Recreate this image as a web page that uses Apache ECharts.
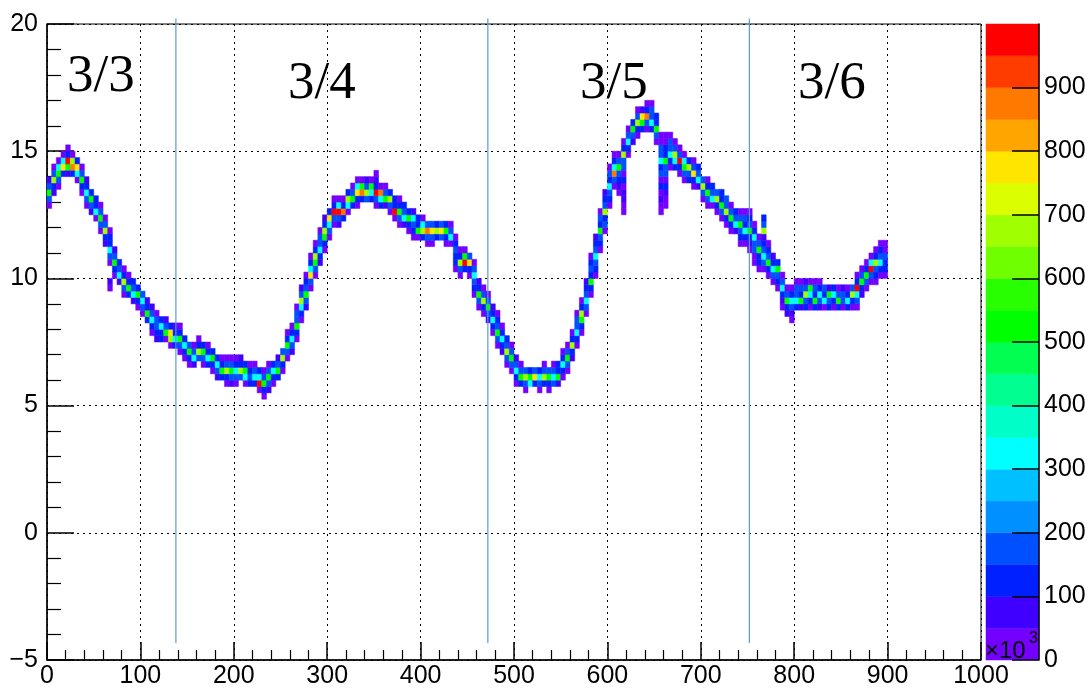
<!DOCTYPE html>
<html>
<head>
<meta charset="utf-8">
<title>occupancy</title>
<script src="https://cdn.jsdelivr.net/npm/echarts@6/dist/echarts.min.js"></script>
<style>
html, body { margin: 0; padding: 0; background: #fff; }
#fig_occupancy { width: 1091px; height: 689px; }
</style>
</head>
<body>
<div id="fig_occupancy"></div>
<script>
// bin sizes of the 2D histogram
var xBinWidth = 5;
var yBinWidth = 0.25;

// palette (x10^3), 20 bands
var colorLevels = [0, 50, 100, 150, 200, 250, 300, 350, 400, 450, 500,
    550, 600, 650, 700, 750, 800, 850, 900, 950, 1000];
var palette = ['#7400ff', '#4000ff', '#0020ff', '#0050ff', '#0090ff',
    '#00c0ff', '#00ffff', '#00ffc8', '#00ff90', '#00ff50',
    '#00ff00', '#28ff00', '#70ff00', '#a0ff00', '#dcff00',
    '#ffe600', '#ffa500', '#ff7800', '#ff3c00', '#ff0000'];

// one row per x bin: [x start, y of lowest bin, counts (x10^3) upwards...]
var trackColumns = [
    [0, 12.75, 30, 180, 520, 170, 70],
    [5, 13.25, 70, 130, 650, 180, 30],
    [10, 13.5, 30, 170, 520, 320, 30],
    [15, 14.0, 120, 760, 320, 30],
    [20, 14.0, 70, 520, 970, 120, 30],
    [25, 14.0, 120, 870, 650, 30],
    [30, 13.75, 30, 320, 760, 120],
    [35, 13.25, 30, 130, 520, 170, 30],
    [40, 12.75, 30, 180, 320, 130, 70],
    [45, 12.5, 70, 170, 520, 120],
    [50, 12.25, 30, 320, 130, 120],
    [55, 11.75, 30, 180, 520, 170, 30],
    [60, 11.25, 70, 130, 650, 180, 30],
    [65, 9.5, 30, 70, 0, 0, 30, 170, 320, 130, 120, 30],
    [70, 10.0, 30, 130, 520, 180, 70],
    [75, 9.75, 70, 320, 170, 120],
    [80, 9.25, 30, 180, 650, 130, 30],
    [85, 9.25, 120, 520, 130, 30],
    [90, 9.0, 70, 320, 170, 120],
    [95, 8.75, 30, 130, 520, 120],
    [100, 8.5, 30, 170, 320, 180],
    [105, 8.25, 120, 520, 130, 70],
    [110, 7.75, 30, 120, 320, 170, 70],
    [115, 7.5, 70, 120, 170, 180, 30],
    [120, 7.5, 120, 130, 320, 120],
    [125, 7.5, 30, 520, 170, 70],
    [130, 7.25, 30, 650, 760, 120],
    [135, 7.25, 120, 320, 130, 70],
    [140, 7.0, 30, 170, 520, 120, 30],
    [145, 6.75, 30, 130, 320, 120],
    [150, 6.5, 30, 120, 520, 180],
    [155, 6.5, 70, 320, 170, 30],
    [160, 6.75, 180, 650, 130, 30],
    [165, 6.5, 30, 170, 520, 120],
    [170, 6.5, 120, 320, 130, 30],
    [175, 6.25, 30, 130, 520, 120],
    [180, 6.0, 70, 170, 320, 120],
    [185, 6.0, 120, 520, 130, 30],
    [190, 5.75, 30, 130, 650, 180, 30],
    [195, 5.75, 70, 180, 520, 170, 30],
    [200, 5.75, 30, 170, 320, 120, 30],
    [205, 6.0, 180, 650, 130, 70],
    [210, 5.75, 30, 320, 520, 120],
    [215, 5.75, 120, 170, 130, 30],
    [220, 5.75, 130, 320, 180, 30],
    [225, 5.5, 30, 970, 320, 120],
    [230, 5.25, 30, 120, 520, 170, 30],
    [235, 5.5, 70, 170, 520, 180, 30],
    [240, 5.75, 30, 130, 320, 120],
    [245, 6.0, 120, 520, 170, 70],
    [250, 6.25, 30, 130, 650, 180],
    [255, 6.75, 30, 170, 520, 120, 30],
    [260, 7.0, 70, 180, 320, 130, 30],
    [265, 7.5, 30, 120, 520, 170, 180, 30],
    [270, 8.25, 30, 130, 320, 650, 180, 70],
    [275, 8.75, 70, 180, 520, 170, 120, 30],
    [280, 9.5, 30, 170, 760, 320, 120, 30],
    [285, 10.0, 30, 180, 520, 650, 130, 30],
    [290, 10.5, 70, 130, 320, 170, 180, 30],
    [295, 11.0, 30, 120, 520, 650, 130, 70],
    [300, 11.5, 30, 170, 320, 760, 120],
    [305, 12.0, 30, 180, 970, 130, 30],
    [310, 12.0, 70, 170, 970, 320, 30],
    [315, 12.25, 120, 870, 130, 30],
    [320, 12.5, 30, 320, 650, 120],
    [325, 12.75, 120, 520, 170, 30],
    [330, 12.75, 30, 130, 760, 320, 30],
    [335, 13.0, 120, 870, 520, 30],
    [340, 13.0, 180, 650, 170, 70],
    [345, 13.0, 120, 320, 520, 30],
    [350, 12.75, 30, 170, 970, 130, 70, 30],
    [355, 12.75, 120, 320, 870, 30],
    [360, 12.75, 70, 520, 170, 30],
    [365, 12.5, 30, 170, 650, 120],
    [370, 12.25, 30, 970, 130, 120],
    [375, 12.0, 30, 180, 520, 130, 30],
    [380, 12.0, 70, 320, 170, 120],
    [385, 11.75, 30, 130, 520, 120],
    [390, 11.5, 30, 120, 170, 320, 70],
    [395, 11.5, 30, 520, 130, 120],
    [400, 11.5, 120, 650, 320, 30],
    [405, 11.25, 30, 180, 870, 170],
    [410, 11.25, 30, 170, 760, 180],
    [415, 11.5, 130, 650, 120],
    [420, 11.5, 170, 760, 180],
    [425, 11.25, 30, 130, 520, 120],
    [430, 11.25, 30, 320, 170, 30],
    [435, 10.25, 30, 120, 130, 180, 120, 30],
    [440, 10.0, 30, 170, 650, 120, 30],
    [445, 10.25, 120, 970, 520, 30],
    [450, 10.0, 30, 130, 760, 180],
    [455, 9.25, 30, 120, 170, 320, 180, 30],
    [460, 8.75, 30, 180, 520, 130, 70],
    [465, 8.5, 30, 130, 650, 170, 30],
    [470, 8.25, 70, 170, 520, 180, 30],
    [475, 7.75, 30, 120, 320, 130, 70],
    [480, 7.25, 30, 180, 520, 170, 120, 30],
    [485, 7.0, 70, 130, 320, 120, 30],
    [490, 6.5, 30, 180, 650, 170, 120],
    [495, 6.25, 30, 170, 520, 180, 30],
    [500, 5.75, 30, 130, 320, 170, 70],
    [505, 5.75, 120, 520, 170, 30],
    [510, 5.5, 30, 180, 650, 180],
    [515, 5.75, 320, 520, 120],
    [520, 5.75, 130, 760, 170],
    [525, 5.5, 30, 170, 320, 120],
    [530, 5.75, 120, 650, 180, 30],
    [535, 5.5, 30, 130, 520, 180],
    [540, 5.75, 180, 320, 170, 30],
    [545, 5.75, 70, 520, 130, 120],
    [550, 6.0, 30, 130, 320, 120, 30],
    [555, 6.25, 30, 180, 520, 170, 30],
    [560, 6.75, 70, 130, 650, 120, 30],
    [565, 7.25, 30, 120, 320, 170, 180, 30],
    [570, 7.75, 30, 130, 520, 650, 120, 30],
    [575, 8.5, 30, 180, 320, 170, 130, 70],
    [580, 9.25, 30, 120, 520, 130, 170, 120, 30],
    [585, 10.0, 30, 130, 180, 320, 170, 120, 70],
    [590, 11.0, 30, 120, 170, 520, 130, 180, 30],
    [595, 11.75, 30, 180, 130, 650, 170, 120, 70],
    [600, 12.75, 30, 120, 170, 320, 130, 180, 30],
    [605, 13.5, 30, 180, 870, 320, 130, 30],
    [610, 13.25, 30, 70, 120, 170, 520, 180, 30],
    [615, 12.5, 30, 30, 70, 70, 30, 120, 30, 180, 170, 650, 130, 30],
    [620, 14.75, 30, 130, 320, 180, 30],
    [625, 15.25, 70, 170, 520, 120],
    [630, 15.5, 30, 130, 650, 180, 30],
    [635, 15.75, 120, 520, 760, 70],
    [640, 15.75, 30, 170, 870, 130, 30],
    [645, 15.75, 120, 320, 170, 180, 30],
    [650, 15.25, 30, 180, 520, 130, 120],
    [655, 12.5, 30, 30, 70, 30, 120, 30, 180, 130, 320, 170, 180, 30, 30],
    [660, 12.75, 30, 30, 70, 120, 30, 180, 170, 520, 130, 120, 30, 30],
    [665, 14.25, 30, 120, 320, 170, 180, 30],
    [670, 14.25, 120, 320, 650, 180, 30],
    [675, 14.0, 30, 130, 970, 170, 30],
    [680, 13.75, 30, 180, 520, 320, 30],
    [685, 13.75, 120, 170, 650, 120],
    [690, 13.5, 30, 130, 760, 180, 30],
    [695, 13.5, 70, 320, 170, 120],
    [700, 13.0, 30, 170, 650, 180],
    [705, 12.75, 30, 180, 520, 130, 30],
    [710, 12.75, 30, 320, 170, 120],
    [715, 12.5, 30, 130, 650, 180],
    [720, 12.25, 30, 170, 520, 130, 120],
    [725, 12.0, 30, 120, 650, 170, 180],
    [730, 11.75, 30, 130, 520, 180, 30],
    [735, 11.75, 70, 320, 170, 120],
    [740, 11.25, 30, 120, 170, 520, 180, 30],
    [745, 11.25, 30, 120, 320, 130, 170, 30],
    [750, 11.0, 30, 70, 130, 520, 170, 120, 30],
    [755, 10.5, 30, 30, 180, 170, 320, 120, 30],
    [760, 10.25, 30, 120, 130, 520, 180, 30],
    [765, 10.25, 30, 180, 320, 170, 120, 70, 650, 170, 130],
    [770, 10.0, 30, 130, 520, 170, 120, 30],
    [775, 9.75, 30, 180, 320, 130, 70],
    [780, 9.5, 30, 120, 170, 520, 120],
    [785, 8.75, 30, 70, 120, 320, 170, 30],
    [790, 8.5, 70, 130, 520, 180, 30],
    [795, 8.25, 30, 70, 170, 320, 120, 30],
    [800, 8.75, 120, 320, 170, 180, 30],
    [805, 8.75, 70, 520, 130, 170, 30],
    [810, 8.75, 120, 170, 650, 180, 70],
    [815, 8.75, 30, 130, 320, 520, 30],
    [820, 8.75, 120, 520, 130, 180, 30],
    [825, 8.75, 70, 170, 320, 120, 30],
    [830, 8.75, 30, 320, 130, 180],
    [835, 8.75, 120, 170, 520, 70],
    [840, 8.75, 30, 130, 320, 120],
    [845, 8.75, 120, 520, 170, 30],
    [850, 8.75, 30, 170, 180, 70],
    [855, 8.75, 120, 320, 130, 30],
    [860, 8.75, 30, 130, 650, 180],
    [865, 8.75, 30, 180, 320, 970, 120, 30],
    [870, 9.25, 70, 130, 520, 170, 30],
    [875, 9.5, 30, 170, 520, 120, 30],
    [880, 9.75, 30, 180, 970, 320, 30],
    [885, 9.75, 30, 120, 170, 650, 130, 30],
    [890, 10.0, 30, 130, 320, 170, 120, 30],
    [895, 10.0, 30, 120, 130, 170, 30, 30]
];

// day boundaries
var dividerX = [138, 472, 752];
var dividerSpan = [-4.33, 20.22];
var dayLabels = ['3/3', '3/4', '3/5', '3/6'];


var fig_occupancy = {
    plot_id: 'fig_occupancy',
    plot_chart: null,

    cells: [],
    bands: [],
    pieces: [],

    load: function() {
        for (let i = 0; i < trackColumns.length; i++) {
            const col = trackColumns[i];
            for (let j = 2; j < col.length; j++) {
                if (col[j] > 0) {
                    this.cells.push([col[0], col[1] + (j - 2) * yBinWidth, col[j]]);
                }
            }
        }
        for (let i = 0; i < palette.length; i++) {
            this.bands.push([0, colorLevels[i], colorLevels[i + 1], i]);
            this.pieces.push({ gte: colorLevels[i], lt: colorLevels[i + 1], color: palette[i] });
        }
        fig_occupancy.init();
    },

    init: function() {
        var font = '"Liberation Sans", Arial, sans-serif';
        var labelStyle = { color: '#000', fontSize: 25, fontFamily: font };

        var series = [{
            type: 'custom',
            xAxisIndex: 0,
            yAxisIndex: 0,
            data: this.cells,
            encode: { x: 0, y: 1 },
            renderItem: function(params, api) {
                var p0 = api.coord([api.value(0), api.value(1) + yBinWidth]);
                var p1 = api.coord([api.value(0) + xBinWidth, api.value(1)]);
                var color = api.visual('color');
                return {
                    type: 'rect',
                    shape: { x: p0[0], y: p0[1], width: p1[0] - p0[0], height: p1[1] - p0[1] },
                    style: { fill: color, stroke: color, lineWidth: 0.5 }
                };
            }
        }, {
            type: 'custom',
            xAxisIndex: 1,
            yAxisIndex: 1,
            z: 1,
            data: this.bands,
            encode: { x: 0, y: [1, 2] },
            renderItem: function(params, api) {
                var p0 = api.coord([0, api.value(2)]);
                var p1 = api.coord([1, api.value(1)]);
                var color = palette[api.value(3)];
                return {
                    type: 'rect',
                    shape: { x: p0[0], y: p0[1], width: p1[0] - p0[0], height: p1[1] - p0[1] },
                    style: { fill: color, stroke: color, lineWidth: 0.5 }
                };
            }
        }];

        for (let i = 0; i < dividerX.length; i++) {
            series.push({
                type: 'line',
                xAxisIndex: 0,
                yAxisIndex: 0,
                clip: false,
                symbol: 'none',
                silent: true,
                lineStyle: { color: '#5b9bd5', width: 1.2 },
                data: [[dividerX[i], dividerSpan[0]], [dividerX[i], dividerSpan[1]]]
            });
        }

        var labelX = [67, 288, 580, 798];
        var labelY = [51, 58, 58, 58];
        var graphic = [];
        for (let i = 0; i < dayLabels.length; i++) {
            graphic.push({
                type: 'text',
                x: labelX[i],
                y: labelY[i],
                style: {
                    text: dayLabels[i],
                    font: '53px "Liberation Serif", "Times New Roman", serif',
                    fill: '#000',
                    align: 'left',
                    verticalAlign: 'top'
                }
            });
        }
        graphic.push({
            type: 'text', x: 985, y: 663, z: 10,
            style: { text: '\u00d710', font: '24px ' + font, fill: '#000', align: 'left', verticalAlign: 'bottom' }
        });
        graphic.push({
            type: 'text', x: 1029, y: 631, z: 10,
            style: { text: '3', font: '16px ' + font, fill: '#000', align: 'left', verticalAlign: 'top' }
        });

        this.option = {
            animation: false,
            backgroundColor: '#fff',
            grid: [{
                left: 47, top: 24, width: 934, height: 636,
                show: true, borderColor: '#000', borderWidth: 1
            }, {
                left: 986, top: 24, width: 53, height: 636
            }],
            visualMap: {
                type: 'piecewise',
                show: false,
                dimension: 2,
                seriesIndex: 0,
                pieces: this.pieces
            },
            xAxis: [{
                gridIndex: 0,
                type: 'value',
                min: 0,
                max: 1000,
                interval: 100,
                axisLine: { onZero: false, lineStyle: { color: '#000', width: 1.5 } },
                axisTick: { inside: true, length: 18, lineStyle: { color: '#000', width: 1.5 } },
                minorTick: { show: true, splitNumber: 5, length: 10, lineStyle: { color: '#000', width: 1.2 } },
                splitLine: { show: true, lineStyle: { color: '#000', width: 1, type: [2, 4] } },
                axisLabel: Object.assign({
                    margin: 4,
                    formatter: function(val) {
                        return String(val);
                    }
                }, labelStyle)
            }, {
                gridIndex: 1,
                type: 'value',
                min: 0,
                max: 1,
                show: false
            }],
            yAxis: [{
                gridIndex: 0,
                type: 'value',
                min: -5,
                max: 20,
                interval: 5,
                axisLine: { onZero: false, lineStyle: { color: '#000', width: 1.5 } },
                axisTick: { inside: true, length: 27, lineStyle: { color: '#000', width: 1.5 } },
                minorTick: { show: true, splitNumber: 5, length: 14, lineStyle: { color: '#000', width: 1.2 } },
                splitLine: { show: true, lineStyle: { color: '#000', width: 1, type: [2, 4] } },
                axisLabel: Object.assign({
                    margin: 9,
                    formatter: function(val) {
                        return String(val).replace('-', '\u2212');
                    }
                }, labelStyle)
            }, {
                gridIndex: 1,
                type: 'value',
                position: 'right',
                z: 5,
                min: 0,
                max: 1000,
                interval: 100,
                axisLine: { show: true, onZero: false, lineStyle: { color: '#000', width: 1.5 } },
                axisTick: { show: true, inside: true, length: 27, lineStyle: { color: '#000', width: 1.5 } },
                splitLine: { show: false },
                axisLabel: Object.assign({
                    margin: 5,
                    showMaxLabel: false,
                    formatter: function(val) {
                        return String(val);
                    }
                }, labelStyle)
            }],
            graphic: graphic,
            series: series
        };

        this.plot_chart = echarts.init(document.getElementById(this.plot_id));
        this.plot_chart.setOption(this.option);
    },

    resize: function() {
        this.plot_chart.resize();
    }
};

fig_occupancy.load();
</script>
</body>
</html>
